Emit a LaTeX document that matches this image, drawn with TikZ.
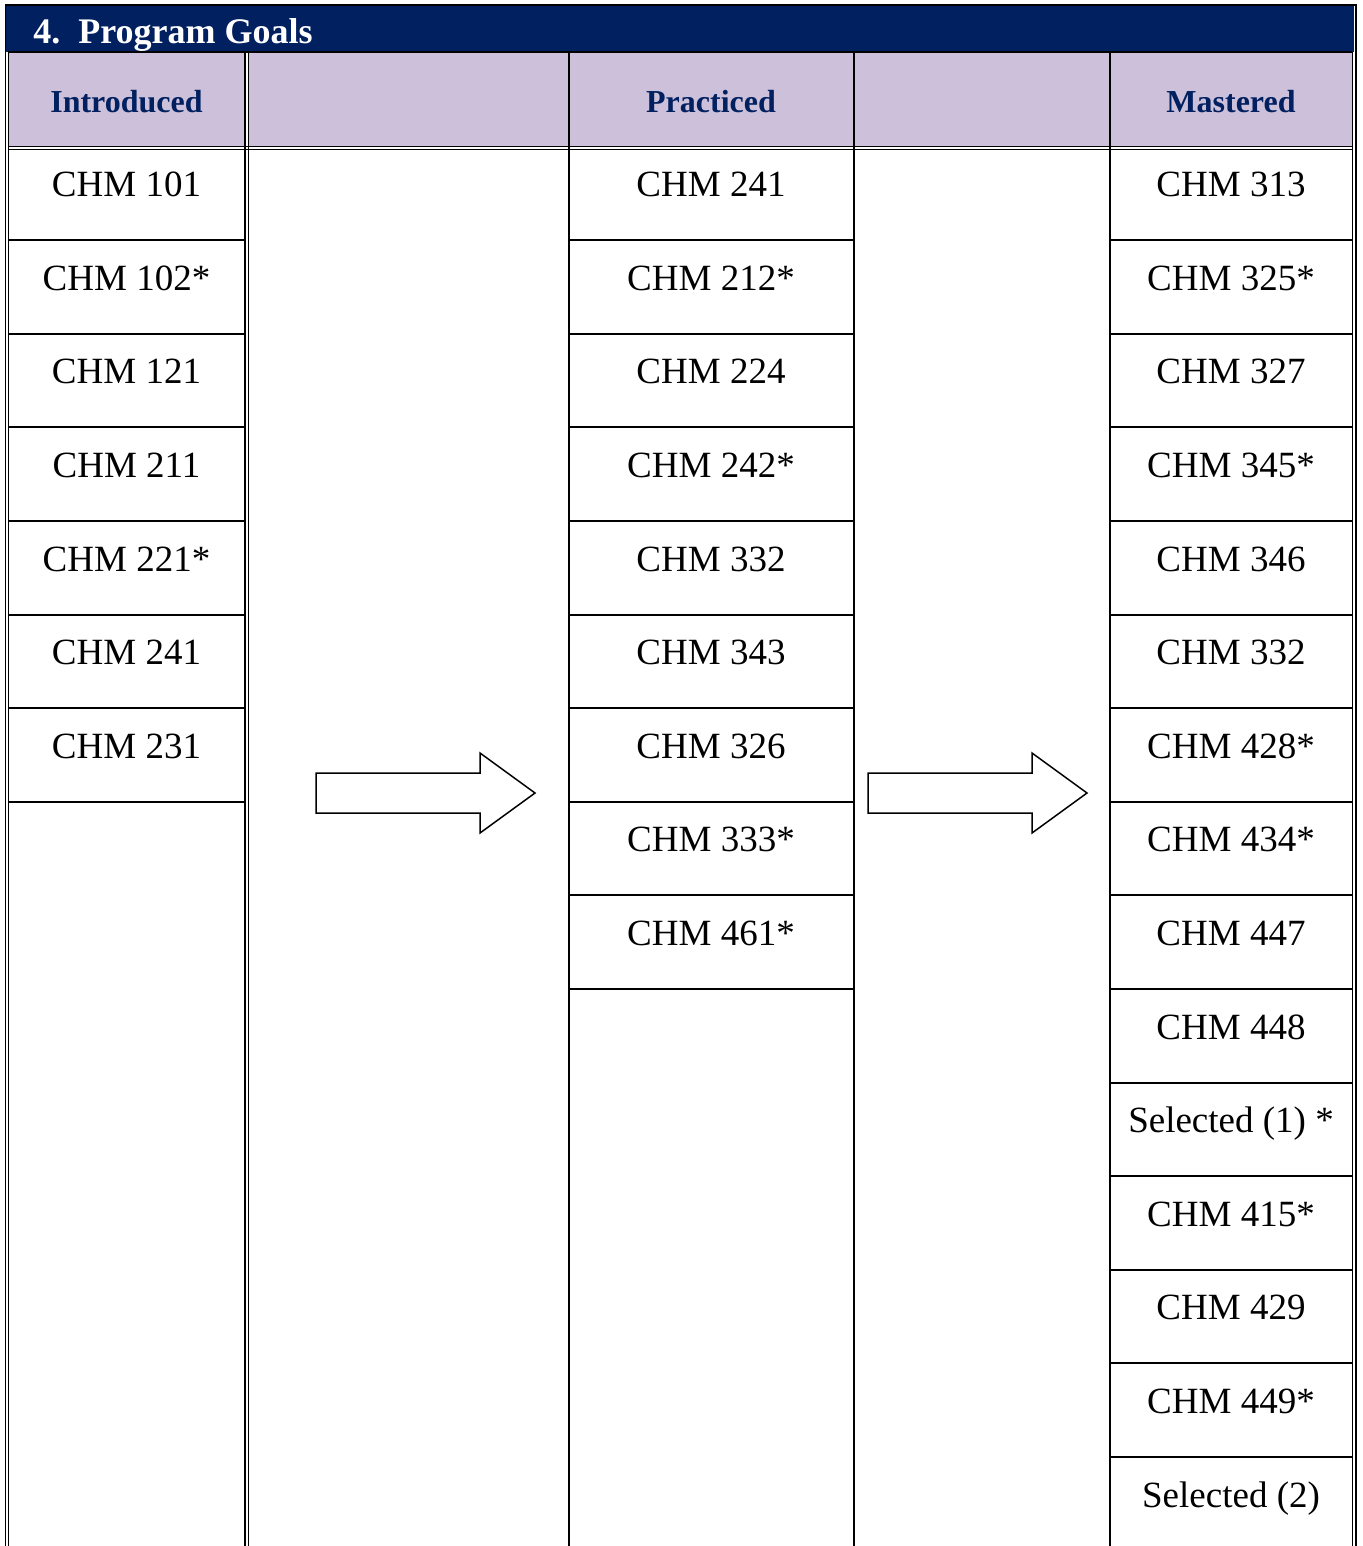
\documentclass[tikz,border=0pt]{standalone}
\usepackage{fontspec}
\setmainfont{Liberation Serif}
\usepackage{tikz}
\definecolor{navy}{RGB}{0,32,96}
\definecolor{lilac}{RGB}{204,192,218}

\begin{document}
\begin{tikzpicture}[x=0.5pt,y=-0.5pt,
  cell/.style={anchor=base,font=\fontsize{18.5}{22}\selectfont},
  head/.style={anchor=base,text=navy,font=\fontsize{16}{19}\selectfont\bfseries},
  rule/.style={line width=1pt},
  fine/.style={line width=0.8pt},
  blockarrow/.style={draw,line width=0.75pt,fill=white,line join=miter}]
\useasboundingbox (0,0) rectangle (1362,1546);
% title band
\fill[navy] (6,6) rectangle (1354,52);
\node[anchor=base west,inner sep=0pt,text=white,font=\fontsize{18}{21}\selectfont\bfseries] (title) at (33,44) {4.\ \ Program Goals};
% header cells
\fill[lilac] (8,53) rectangle (245,146);
\fill[lilac] (249,53) rectangle (568,146);
\fill[lilac] (569,53) rectangle (854,146);
\fill[lilac] (855,53) rectangle (1110,146);
\fill[lilac] (1111,53) rectangle (1352,146);
\node[head] (hI) at (126.5,113) {Introduced};
\node[head] (hP) at (711,113) {Practiced};
\node[head] (hM) at (1231,113) {Mastered};
% frame
\draw[rule] (5,5.5) -- (1357,5.5);
\draw[rule] (8,52.5) -- (1352,52.5);
\draw[fine] (8,146.5) -- (1352,146.5);
\draw[fine] (8,149.5) -- (1352,149.5);
\draw[fine] (5.5,5) -- (5.5,1546);
\draw[fine] (8.5,52) -- (8.5,1546);
\draw[fine] (1352.5,52) -- (1352.5,1546);
\draw[fine] (1356,5) -- (1356,1546);
\draw[fine] (245,52) -- (245,1546);
\draw[fine] (248.5,52) -- (248.5,1546);
\draw[rule] (568.5,52) -- (568.5,1546);
\draw[rule] (854,52) -- (854,1546);
\draw[rule] (1110,52) -- (1110,1546);
% row rules
\draw[rule] (8,240.2) -- (245,240.2) (8,333.8) -- (245,333.8)
  (8,427.4) -- (245,427.4) (8,521) -- (245,521) (8,614.6) -- (245,614.6)
  (8,708.2) -- (245,708.2) (8,801.8) -- (245,801.8);
\draw[rule] (568,240.2) -- (854,240.2) (568,333.8) -- (854,333.8)
  (568,427.4) -- (854,427.4) (568,521) -- (854,521) (568,614.6) -- (854,614.6)
  (568,708.2) -- (854,708.2) (568,801.8) -- (854,801.8) (568,895.4) -- (854,895.4)
  (568,989) -- (854,989);
\draw[rule] (1110,240.2) -- (1352,240.2) (1110,333.8) -- (1352,333.8)
  (1110,427.4) -- (1352,427.4) (1110,521) -- (1352,521) (1110,614.6) -- (1352,614.6)
  (1110,708.2) -- (1352,708.2) (1110,801.8) -- (1352,801.8) (1110,895.4) -- (1352,895.4)
  (1110,989) -- (1352,989) (1110,1082.6) -- (1352,1082.6) (1110,1176.2) -- (1352,1176.2)
  (1110,1269.8) -- (1352,1269.8) (1110,1363.4) -- (1352,1363.4) (1110,1457) -- (1352,1457);
% introduced
\node[cell] (I1) at (126.5,196.7) {CHM 101};
\node[cell] (I2) at (126.5,290.3) {CHM 102*};
\node[cell] (I3) at (126.5,383.9) {CHM 121};
\node[cell] (I4) at (126.5,477.5) {CHM 211};
\node[cell] (I5) at (126.5,571.1) {CHM 221*};
\node[cell] (I6) at (126.5,664.7) {CHM 241};
\node[cell] (I7) at (126.5,758.3) {CHM 231};
% practiced
\node[cell] (P1) at (711,196.7) {CHM 241};
\node[cell] (P2) at (711,290.3) {CHM 212*};
\node[cell] (P3) at (711,383.9) {CHM 224};
\node[cell] (P4) at (711,477.5) {CHM 242*};
\node[cell] (P5) at (711,571.1) {CHM 332};
\node[cell] (P6) at (711,664.7) {CHM 343};
\node[cell] (P7) at (711,758.3) {CHM 326};
\node[cell] (P8) at (711,851.9) {CHM 333*};
\node[cell] (P9) at (711,945.5) {CHM 461*};
% mastered
\node[cell] (M1) at (1231,196.7) {CHM 313};
\node[cell] (M2) at (1231,290.3) {CHM 325*};
\node[cell] (M3) at (1231,383.9) {CHM 327};
\node[cell] (M4) at (1231,477.5) {CHM 345*};
\node[cell] (M5) at (1231,571.1) {CHM 346};
\node[cell] (M6) at (1231,664.7) {CHM 332};
\node[cell] (M7) at (1231,758.3) {CHM 428*};
\node[cell] (M8) at (1231,851.9) {CHM 434*};
\node[cell] (M9) at (1231,945.5) {CHM 447};
\node[cell] (M10) at (1231,1039.1) {CHM 448};
\node[cell] (M11) at (1231,1132.7) {Selected (1) *};
\node[cell] (M12) at (1231,1226.3) {CHM 415*};
\node[cell] (M13) at (1231,1319.9) {CHM 429};
\node[cell] (M14) at (1231,1413.5) {CHM 449*};
\node[cell] (M15) at (1231,1507.1) {Selected (2)};
% block arrows
\draw[blockarrow] (316,773) -- (480,773) -- (480,753) -- (535,793)
  -- (480,833) -- (480,813) -- (316,813) -- cycle;
\draw[blockarrow] (868,773) -- (1032,773) -- (1032,753) -- (1087,793)
  -- (1032,833) -- (1032,813) -- (868,813) -- cycle;
\end{tikzpicture}
\end{document}
